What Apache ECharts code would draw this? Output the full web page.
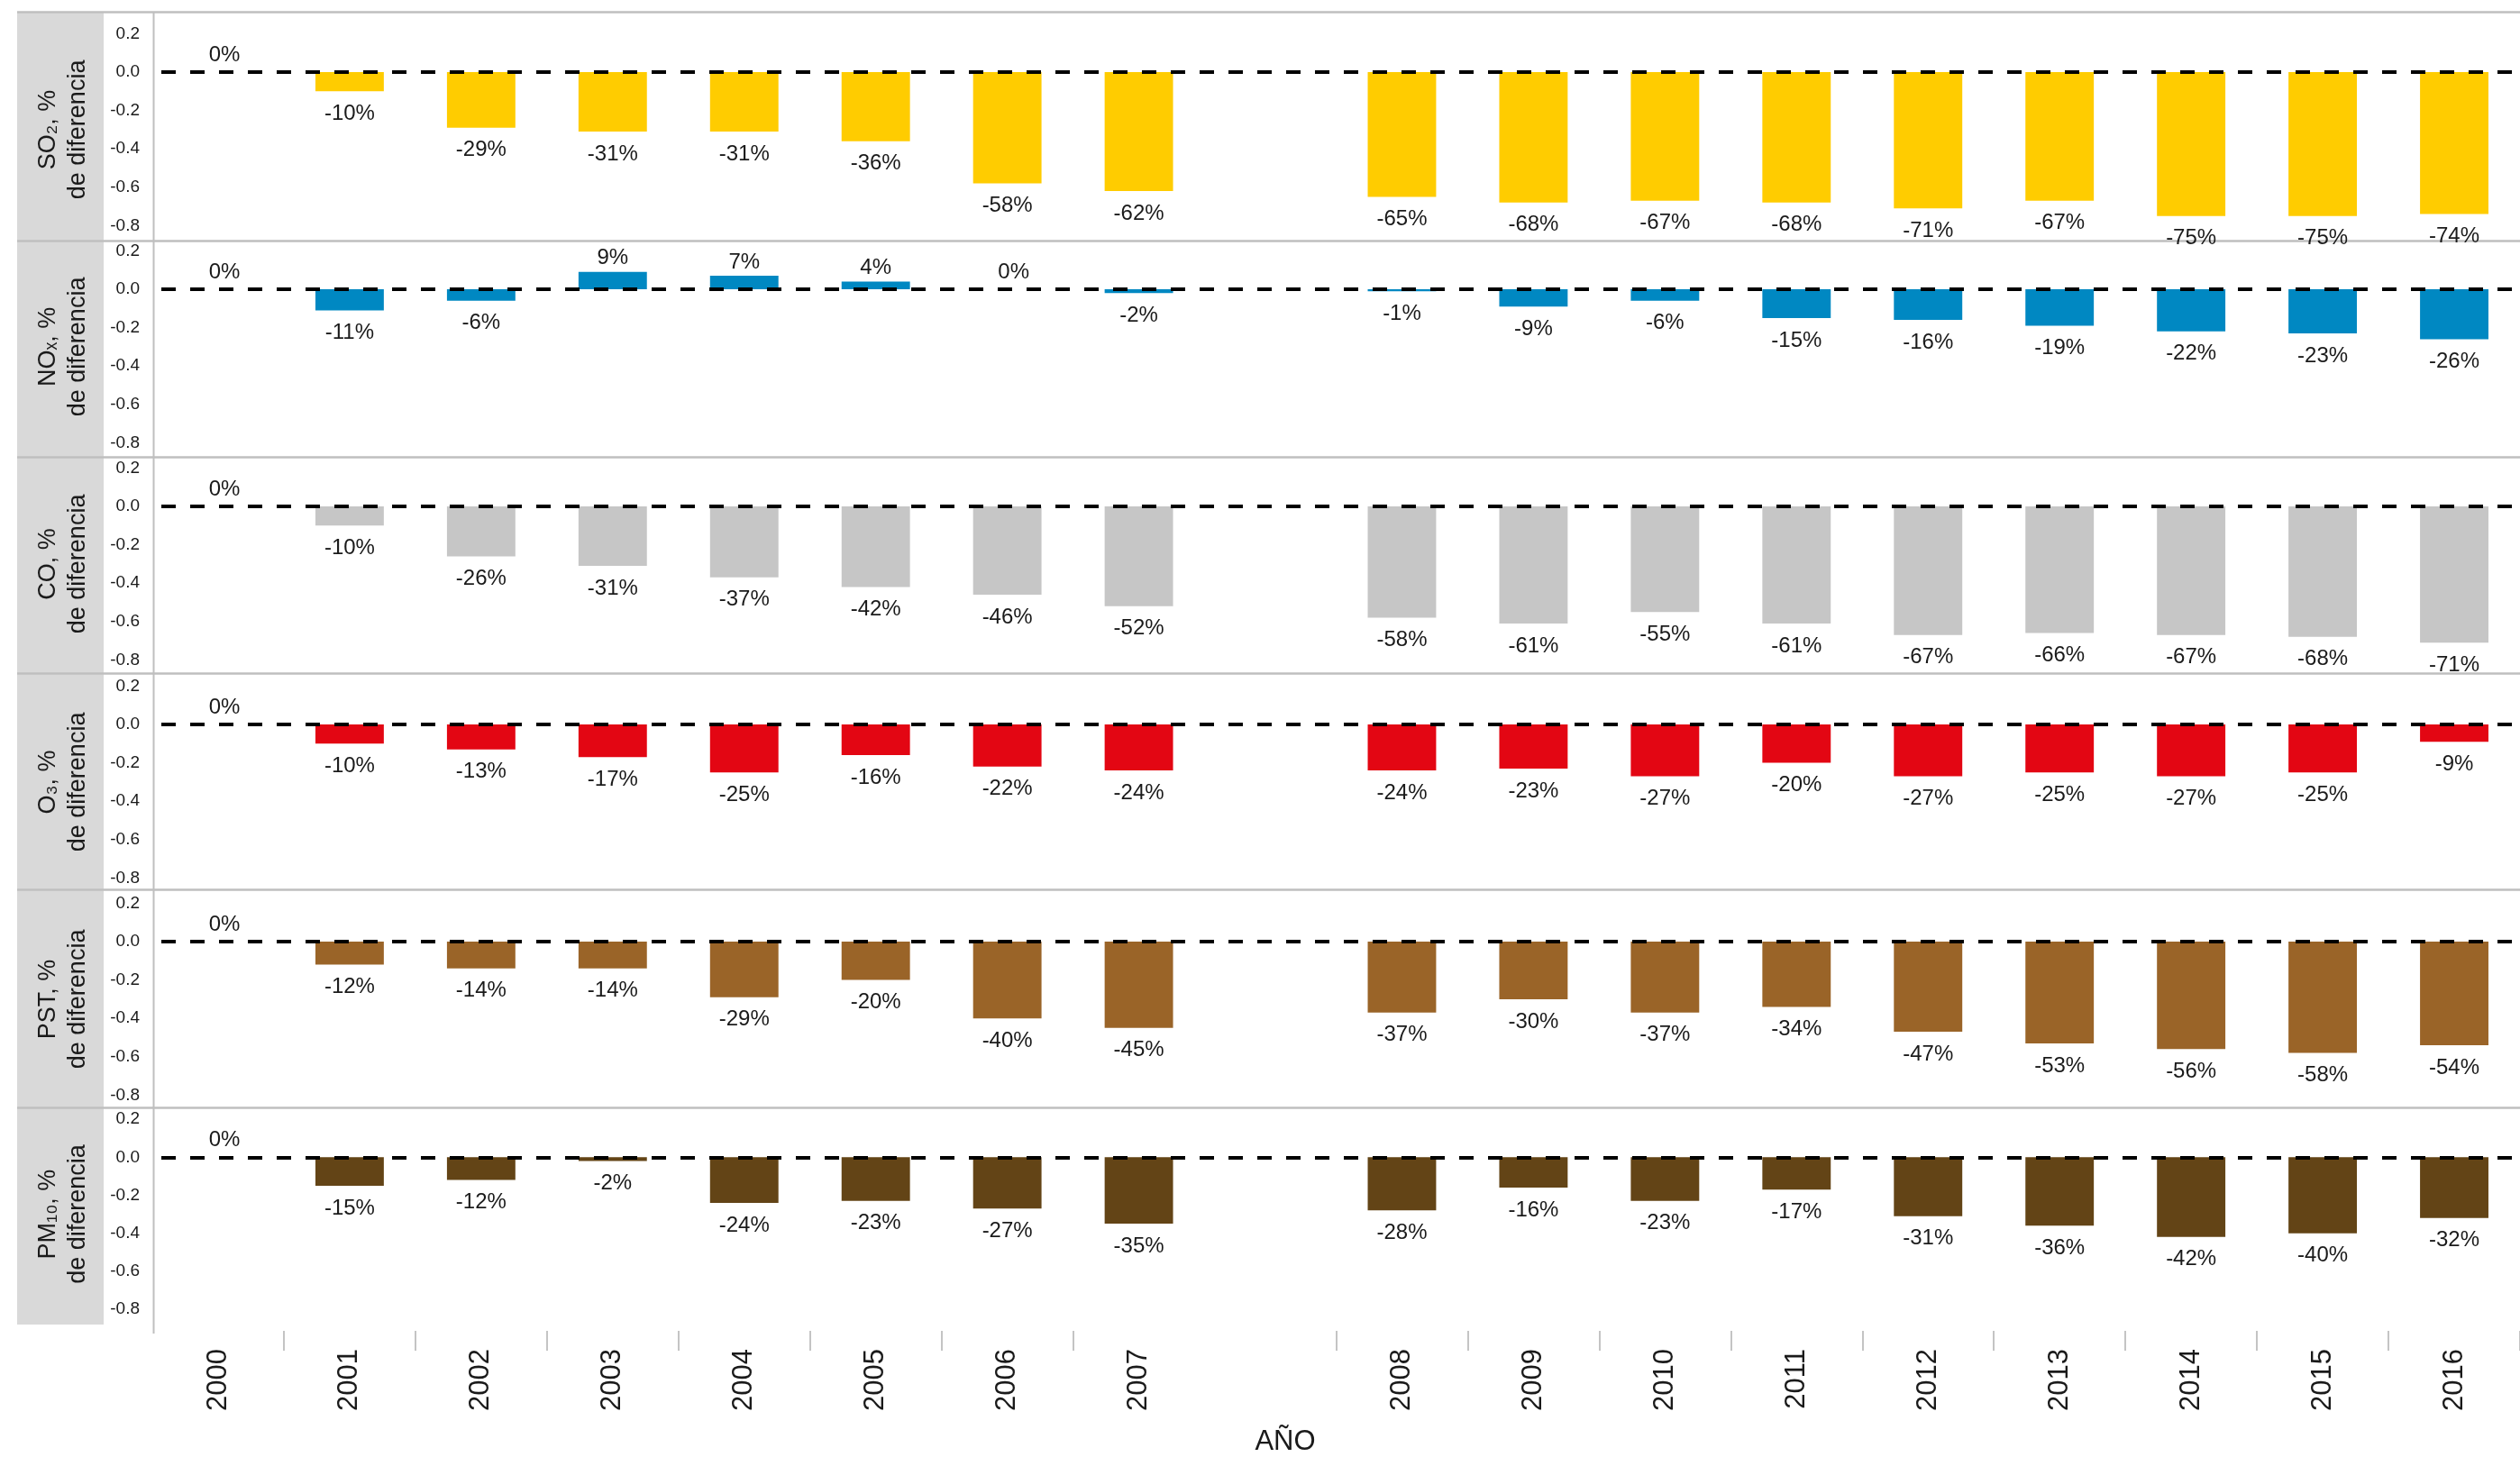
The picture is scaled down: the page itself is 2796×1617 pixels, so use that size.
<!DOCTYPE html>
<html>
<head>
<meta charset="utf-8">
<script src="https://cdn.jsdelivr.net/npm/echarts@6/dist/echarts.min.js"></script>
<style>
html,body{margin:0;padding:0;background:#fff;}
#main{width:2796px;height:1617px;}
</style>
</head>
<body>
<div id="main"></div>
<script>
// Categories (empty slot = gap between 2007 and 2008)
const years = ['2000','2001','2002','2003','2004','2005','2006','2007','','2008','2009','2010','2011','2012','2013','2014','2015','2016'];

// Fractional differences vs 2000
const so2  = [0,-0.10,-0.29,-0.31,-0.31,-0.36,-0.58,-0.62,null,-0.65,-0.68,-0.67,-0.68,-0.71,-0.67,-0.75,-0.75,-0.74];
const nox  = [0,-0.11,-0.06, 0.09, 0.07, 0.04, 0.00,-0.02,null,-0.01,-0.09,-0.06,-0.15,-0.16,-0.19,-0.22,-0.23,-0.26];
const co   = [0,-0.10,-0.26,-0.31,-0.37,-0.42,-0.46,-0.52,null,-0.58,-0.61,-0.55,-0.61,-0.67,-0.66,-0.67,-0.68,-0.71];
const o3   = [0,-0.10,-0.13,-0.17,-0.25,-0.16,-0.22,-0.24,null,-0.24,-0.23,-0.27,-0.20,-0.27,-0.25,-0.27,-0.25,-0.09];
const pst  = [0,-0.12,-0.14,-0.14,-0.29,-0.20,-0.40,-0.45,null,-0.37,-0.30,-0.37,-0.34,-0.47,-0.53,-0.56,-0.58,-0.54];
const pm10 = [0,-0.15,-0.12,-0.02,-0.24,-0.23,-0.27,-0.35,null,-0.28,-0.16,-0.23,-0.17,-0.31,-0.36,-0.42,-0.40,-0.32];

const panelNames = ['SO\u2082, %\nde diferencia','NO\u2093, %\nde diferencia','CO, %\nde diferencia','O\u2083, %\nde diferencia','PST, %\nde diferencia','PM\u2081\u2080, %\nde diferencia'];
const xAxisTitle = 'AÑO';

const seriesValues = [so2, nox, co, o3, pst, pm10];
const colors = ['#FFCC00','#0088C2','#C6C6C6','#E30613','#9A6428','#634416'];

// layout (pixels)
const zeroY = [80, 321, 562, 804, 1045, 1285];
const pxPerUnit = 213;
const yMin = -0.9, yMax = 0.3;
const gridLeft = 169, gridRight = -28;
const sepY = [13.5, 267.5, 507.5, 747.5, 987.5, 1229.5];
const FONT = '"Liberation Sans", Arial, sans-serif';

function labelFor(v) {
  if (v < 0) return {position: 'bottom', distance: 13};
  if (v === 0) return {position: 'top', distance: 7, offset: [7, 0]};
  return {position: 'top', distance: 3};
}

const grids = [], xAxes = [], yAxes = [], series = [];
seriesValues.forEach((vals, i) => {
  const top = zeroY[i] - yMax * pxPerUnit;
  const height = (yMax - yMin) * pxPerUnit;
  grids.push({left: gridLeft, right: gridRight, top: top, height: height});
  const last = i === seriesValues.length - 1;
  xAxes.push({
    type: 'category', gridIndex: i, data: years,
    show: true,
    position: 'bottom',
    offset: last ? 3 : 0,
    axisLine: {show: false, onZero: false},
    axisTick: {show: last, length: 22, lineStyle: {color: '#c4c4c4', width: 2},
      interval: (idx) => idx !== 0 && idx !== 8},
    axisLabel: {show: last, rotate: 90, interval: 0, margin: 20, fontSize: 31, color: '#1a1a1a', fontFamily: FONT},
    name: last ? xAxisTitle : '',
    nameLocation: 'middle', nameGap: 108,
    nameTextStyle: {fontSize: 31, color: '#1a1a1a', fontFamily: FONT, padding: [0, 113, 0, 0]}
  });
  yAxes.push({
    type: 'value', gridIndex: i, min: yMin, max: yMax, interval: 0.1,
    axisLine: {show: false}, axisTick: {show: false}, splitLine: {show: false},
    axisLabel: {
      margin: 14, fontSize: 19, color: '#1a1a1a', fontFamily: FONT,
      showMinLabel: true, showMaxLabel: true,
      formatter: (v) => { const t = Math.round(v * 10); return (t % 2 === 0) ? (Math.abs(v) < 1e-9 ? '0.0' : v.toFixed(1)) : ''; }
    },
    name: panelNames[i], nameLocation: 'middle', nameRotate: 90, nameGap: 66,
    nameTextStyle: {fontSize: 27, lineHeight: 33, color: '#1a1a1a', fontFamily: FONT, align: 'center'}
  });
  series.push({
    type: 'bar', xAxisIndex: i, yAxisIndex: i,
    barWidth: '52%',
    itemStyle: {color: colors[i]},
    data: vals.map(v => v === null ? null : {value: v, label: labelFor(v)}),
    label: {
      show: true, fontSize: 24, color: '#1a1a1a', fontFamily: FONT,
      formatter: (p) => Math.round(p.value * 100) + '%'
    },
    markLine: {
      silent: true, symbol: 'none', animation: false,
      label: {show: false},
      lineStyle: {color: '#000', width: 4, type: [16, 16], dashOffset: 22},
      data: [{yAxis: 0}]
    },
    animation: false
  });
});

const graphics = [
  {type: 'rect', shape: {x: 19, y: 13.5, width: 96, height: 1456.5}, style: {fill: '#d9d9d9'}, z: -10, silent: true},
  {type: 'line', shape: {x1: 170.5, y1: 13.5, x2: 170.5, y2: 1480}, style: {stroke: '#bfbfbf', lineWidth: 2}, z: -5, silent: true}
];
sepY.forEach(y => graphics.push({type: 'line', shape: {x1: 19, y1: y, x2: 2796, y2: y}, style: {stroke: '#bfbfbf', lineWidth: 2.5}, z: -5, silent: true}));

const chart = echarts.init(document.getElementById('main'), null, {renderer: 'canvas'});
chart.setOption({
  animation: false,
  backgroundColor: '#fff',
  grid: grids,
  xAxis: xAxes,
  yAxis: yAxes,
  series: series,
  graphic: graphics
});
</script>
</body>
</html>
